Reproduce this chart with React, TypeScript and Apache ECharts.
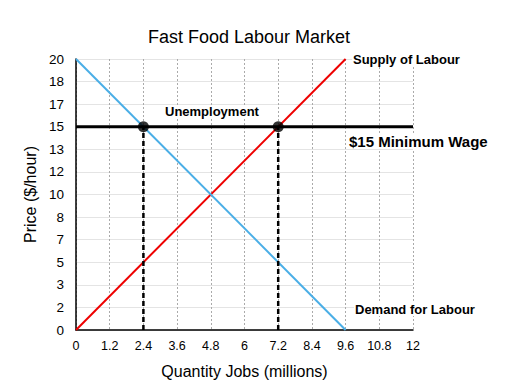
import React, { useEffect, useRef } from "react";
import * as echarts from "echarts";

const supplyQty = [0, 9.6];
const supplyPrice = [0, 20];
const demandQty = [0, 9.6];
const demandPrice = [20, 0];
const minWageQty = [0, 12];
const minWagePrice = [15, 15];
const pointQty = [2.4, 7.2];
const pointPrice = [15, 15];
const FONT = "Liberation Sans, Arial, Helvetica, sans-serif";

export default function App() {
  const ref = useRef<HTMLDivElement>(null);
  useEffect(() => {
    const chart = echarts.init(ref.current!, null, { renderer: "svg" });
    const pair = (xs: number[], ys: number[]) => xs.map((x, i) => [x, ys[i]]);
    const label = (text: string, left: number, top: number, size: number) => ({
      type: "text",
      left,
      top,
      z: 100,
      style: {
        text,
        font: `bold ${size}px ${FONT}`,
        fill: "#000",
        backgroundColor: "#fff",
        padding: [0, 1],
      },
    });
    chart.setOption({
      animation: false,
      backgroundColor: "#fff",
      textStyle: { fontFamily: FONT },
      title: {
        text: "Fast Food Labour Market",
        left: 244,
        top: 23,
        textAlign: "center",
        textStyle: { fontFamily: FONT, fontSize: 18, fontWeight: "normal", color: "#000" },
      },
      grid: { left: 76, right: 100, top: 59, bottom: 59 },
      xAxis: {
        type: "value",
        min: 0,
        max: 12,
        interval: 1.2,
        name: "Quantity Jobs (millions)",
        nameLocation: "middle",
        nameGap: 33,
        nameTextStyle: { fontFamily: FONT, fontSize: 16, color: "#000" },
        axisLine: { lineStyle: { color: "#000", width: 1.5 } },
        axisTick: { show: false },
        axisLabel: {
          color: "#000",
          fontSize: 12.5,
          fontFamily: FONT,
          margin: 9,
          formatter: (v: number) => String(+v.toFixed(1)),
        },
        splitLine: { show: true, lineStyle: { color: "#aaa", type: [2, 2], width: 1 } },
      },
      yAxis: {
        type: "value",
        min: 0,
        max: 20,
        interval: 20 / 12,
        name: "Price ($/hour)",
        nameLocation: "middle",
        nameGap: 38,
        nameTextStyle: { fontFamily: FONT, fontSize: 16, color: "#000" },
        axisLine: { show: true, lineStyle: { color: "#000", width: 1.5 } },
        axisTick: { show: false },
        axisLabel: {
          color: "#000",
          fontSize: 13.5,
          fontFamily: FONT,
          margin: 12,
          formatter: (v: number) => String(Math.round(v)),
        },
        splitLine: { show: true, lineStyle: { color: "#e4e4e4", width: 1 } },
      },
      series: [
        {
          type: "line",
          data: pair(supplyQty, supplyPrice),
          symbol: "none",
          lineStyle: { color: "#ee0000", width: 2 },
        },
        {
          type: "line",
          data: pair(demandQty, demandPrice),
          symbol: "none",
          lineStyle: { color: "#4aaee6", width: 2 },
        },
        {
          type: "line",
          data: pair(minWageQty, minWagePrice),
          symbol: "none",
          lineStyle: { color: "#000", width: 3 },
        },
        ...pointQty.map((q, i) => ({
          type: "line",
          data: [
            [q, 0],
            [q, pointPrice[i]],
          ],
          symbol: "none",
          lineStyle: { color: "#000", width: 2.5, type: [5, 3] },
        })),
        {
          type: "scatter",
          data: pair(pointQty, pointPrice),
          symbolSize: 11,
          itemStyle: { color: "#000" },
          z: 10,
        },
      ],
      graphic: [
        label("Supply of Labour", 352, 53, 13),
        label("Unemployment", 164, 105, 13),
        label("$15 Minimum Wage", 348, 134, 15),
        label("Demand for Labour", 354, 303, 13),
      ],
    });
    return () => chart.dispose();
  }, []);
  return <div ref={ref} style={{ position: "fixed", left: 0, top: 0, width: 513, height: 389 }} />;
}
